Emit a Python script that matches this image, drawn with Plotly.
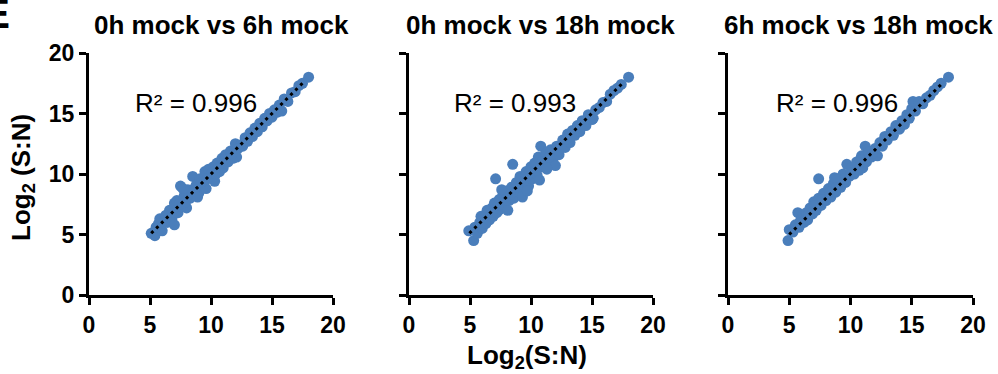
import plotly.graph_objects as go

# ---------------- data ----------------
titles = ["0h mock vs 6h mock", "0h mock vs 18h mock", "6h mock vs 18h mock"]
r2_labels = ["R\u00b2 = 0.996", "R\u00b2 = 0.993", "R\u00b2 = 0.996"]
tick_vals = [0, 5, 10, 15, 20]
tick_text = ["0", "5", "10", "15", "20"]
axis_title = "Log<sub>2</sub>(S:N)"
y_axis_title = "Log<sub>2</sub> (S:N)"

pts_0h_6h = [
    (5.1, 5.1), (5.4, 4.9), (5.5, 5.6), (5.8, 6.3), (6.0, 5.3), (6.2, 6.4), (6.4, 6.0),
    (6.6, 7.0), (6.8, 6.3), (7.0, 7.6), (7.0, 5.8), (7.2, 7.8), (7.3, 6.8), (7.5, 9.0),
    (7.6, 7.3), (7.8, 8.2), (8.0, 7.2), (8.1, 8.7), (8.3, 8.0), (8.5, 9.8), (8.6, 8.3),
    (8.8, 9.1), (9.0, 8.4), (9.1, 9.6), (9.3, 9.0), (9.5, 10.2), (9.6, 8.8), (9.8, 10.4),
    (10.0, 9.7), (10.2, 10.6), (10.3, 9.4), (10.5, 10.9), (10.7, 10.2), (10.9, 11.3),
    (11.0, 10.5), (11.2, 11.6), (11.4, 11.0), (11.6, 11.9), (11.8, 11.3), (12.0, 12.5),
    (12.1, 11.4), (12.4, 12.4), (12.6, 12.3), (12.8, 13.0), (13.0, 12.7), (13.2, 13.4),
    (13.4, 13.1), (13.6, 13.8), (13.8, 13.5), (14.0, 14.2), (14.2, 13.9), (14.4, 14.6),
    (14.6, 14.4), (14.8, 15.0), (15.0, 14.7), (15.2, 15.3), (15.4, 15.1), (15.6, 15.7),
    (15.8, 15.2), (16.0, 16.2), (16.3, 16.0), (16.6, 16.7), (16.9, 16.8), (17.2, 17.3),
    (17.5, 17.5), (18.0, 18.0),
    (5.7, 5.9), (6.3, 6.6), (6.9, 7.1), (7.4, 7.5), (7.9, 7.7), (8.2, 8.4), (8.7, 8.9),
    (9.2, 9.3), (9.7, 9.6), (10.1, 10.1), (10.6, 10.5), (11.1, 11.2), (11.7, 11.6),
    (12.2, 12.1), (12.9, 12.8), (7.7, 8.8), (8.9, 8.1), (10.4, 10.0),
]

pts_0h_18h = [
    (4.9, 5.3), (5.3, 4.5), (5.4, 5.6), (5.6, 5.1), (5.8, 6.0), (6.0, 5.5), (6.1, 6.4),
    (6.3, 5.9), (6.5, 6.8), (6.6, 6.2), (6.8, 7.2), (6.9, 6.5), (7.0, 7.6), (7.1, 9.6),
    (7.2, 6.8), (7.4, 7.9), (7.5, 7.1), (7.7, 8.3), (7.8, 7.4), (8.0, 8.6), (8.1, 7.0),
    (8.2, 7.8), (8.4, 8.9), (8.5, 10.8), (8.6, 8.0), (8.8, 9.3), (9.0, 8.5), (9.1, 9.8),
    (9.3, 8.1), (9.4, 9.2), (9.6, 10.2), (9.8, 9.0), (10.0, 10.6), (10.1, 9.6), (10.3, 10.9),
    (10.5, 9.9), (10.6, 11.4), (10.7, 9.5), (10.8, 12.3), (11.0, 10.6), (11.2, 11.7),
    (11.4, 10.9), (11.6, 12.0), (11.8, 11.2), (12.0, 10.7), (12.1, 12.3), (12.3, 11.6),
    (12.6, 12.8), (12.8, 12.2), (13.0, 13.3), (13.2, 12.6), (13.4, 13.6), (13.6, 13.2),
    (13.8, 14.0), (14.0, 13.5), (14.2, 14.4), (14.5, 14.0), (14.7, 14.9), (15.0, 14.5),
    (15.1, 14.6), (15.3, 15.3), (15.6, 15.5), (15.9, 15.9), (16.2, 16.0), (16.5, 16.6),
    (16.8, 16.9), (17.1, 17.1), (17.4, 17.4), (18.0, 18.0),
    (5.9, 6.5), (6.4, 7.0), (7.3, 7.4), (7.6, 8.7), (8.3, 8.3), (8.9, 8.9), (9.5, 9.5),
    (9.9, 10.1), (10.4, 10.3), (10.9, 11.0), (11.5, 11.4), (12.2, 12.0), (12.9, 12.9),
    (9.7, 8.6), (7.9, 7.8), (11.3, 10.4),
]

pts_6h_18h = [
    (4.9, 4.5), (5.0, 5.4), (5.3, 5.2), (5.5, 5.8), (5.7, 6.8), (5.8, 5.6), (6.0, 6.3),
    (6.2, 6.0), (6.4, 6.8), (6.5, 6.2), (6.7, 7.2), (6.9, 6.7), (7.0, 7.7), (7.2, 7.0),
    (7.4, 9.6), (7.4, 8.0), (7.6, 7.4), (7.8, 8.4), (8.0, 7.8), (8.2, 8.8), (8.4, 8.1),
    (8.6, 9.2), (8.8, 8.5), (9.0, 9.6), (9.2, 8.9), (9.4, 10.0), (9.6, 9.3), (9.7, 10.8),
    (9.9, 9.8), (10.1, 10.5), (10.3, 10.0), (10.5, 11.0), (10.7, 10.3), (10.9, 11.5),
    (11.0, 10.5), (11.2, 12.3), (11.3, 11.0), (11.5, 11.8), (11.7, 11.4), (12.0, 12.1),
    (12.2, 11.5), (12.4, 12.6), (12.6, 12.3), (12.8, 13.1), (13.0, 12.8), (13.3, 13.5),
    (13.5, 13.2), (13.7, 14.0), (14.0, 13.7), (14.2, 14.4), (14.4, 14.1), (14.6, 14.9),
    (14.8, 14.6), (15.0, 15.4), (15.1, 16.0), (15.3, 15.2), (15.6, 16.0), (15.9, 15.8),
    (16.2, 16.3), (16.5, 16.5), (16.8, 16.9), (17.1, 17.2), (17.4, 17.5), (18.0, 18.0),
    (5.9, 6.1), (6.6, 6.7), (7.1, 7.4), (7.7, 7.9), (8.3, 8.5), (8.9, 9.0), (9.5, 9.6),
    (10.0, 10.1), (10.6, 10.6), (11.1, 11.1), (11.8, 11.7), (12.5, 12.4), (8.7, 9.7),
    (10.8, 11.2),
]

trend_x = [[5.1, 17.6], [4.95, 17.5], [5.0, 17.5]]
trend_y = [[5.1, 17.6], [5.1, 17.5], [5.0, 17.5]]
r2_x = [8.8, 8.7, 8.9]
r2_y = [15.9, 15.9, 15.9]

# ---------------- styling / layout ----------------
W, H = 998, 374
FONT = "Arial, Liberation Sans, sans-serif"
BLUE = "#4A7EBB"
x_px = [(89, 333), (409, 653), (728, 973)]
y_px = (53, 295)
title_cx = [221, 540, 858]

fig = go.Figure()
all_pts = [pts_0h_6h, pts_0h_18h, pts_6h_18h]

for i, pts in enumerate(all_pts):
    k = "" if i == 0 else str(i + 1)
    xs = [p[0] for p in pts]
    ys = [p[1] for p in pts]
    fig.add_trace(go.Scatter(
        x=xs, y=ys, mode="markers", xaxis="x" + k, yaxis="y" + k,
        marker=dict(size=11, color=BLUE, line=dict(width=0)),
        hoverinfo="skip", cliponaxis=False,
    ))
    fig.add_trace(go.Scatter(
        x=trend_x[i], y=trend_y[i], mode="lines", xaxis="x" + k, yaxis="y" + k,
        line=dict(color="black", width=3, dash="3px,4px"),
        hoverinfo="skip",
    ))
    axis_common = dict(
        range=[0, 20], tickvals=tick_vals, ticktext=tick_text,
        ticks="outside", ticklen=7, tickwidth=3, tickcolor="black",
        showline=True, linewidth=3, linecolor="black",
        showgrid=False, zeroline=False, automargin=False,
        tickfont=dict(family=FONT, size=23, color="black", weight="bold"),
    )
    fig.layout["xaxis" + k] = dict(
        domain=[x_px[i][0] / W, x_px[i][1] / W], anchor="y" + k, **axis_common
    )
    fig.layout["yaxis" + k] = dict(
        domain=[1 - y_px[1] / H, 1 - y_px[0] / H], anchor="x" + k,
        showticklabels=(i == 0), **axis_common
    )
    fig.add_annotation(
        x=r2_x[i], y=r2_y[i], xref="x" + k, yref="y" + k, text=r2_labels[i],
        showarrow=False, font=dict(family=FONT, size=26, color="black"),
    )
    fig.add_annotation(
        x=title_cx[i] / W, y=1 - 25 / H, xref="paper", yref="paper", text=titles[i],
        showarrow=False, xanchor="center", yanchor="middle",
        font=dict(family=FONT, size=26, color="black", weight="bold"),
    )

fig.add_annotation(
    x=22 / W, y=1 - 178 / H, xref="paper", yref="paper", text=y_axis_title,
    textangle=-90, showarrow=False, xanchor="center", yanchor="middle",
    font=dict(family=FONT, size=26, color="black", weight="bold"),
)
fig.add_annotation(
    x=527 / W, y=1 - 356 / H, xref="paper", yref="paper", text=axis_title,
    showarrow=False, xanchor="center", yanchor="middle",
    font=dict(family=FONT, size=26, color="black", weight="bold"),
)
fig.add_annotation(
    x=0, y=1 - 17 / H, xref="paper", yref="paper", text="E",
    showarrow=False, xanchor="right", yanchor="middle", xshift=12, yshift=3,
    font=dict(family=FONT, size=42, color="black", weight="bold"),
)

fig.update_layout(
    width=W, height=H, margin=dict(l=0, r=0, t=0, b=0, autoexpand=False),
    showlegend=False, plot_bgcolor="white", paper_bgcolor="white",
)

fig.write_html(
    "out.html",
    config={"displayModeBar": False},
    post_script="document.body.style.margin='0';document.body.style.overflow='hidden';",
)
